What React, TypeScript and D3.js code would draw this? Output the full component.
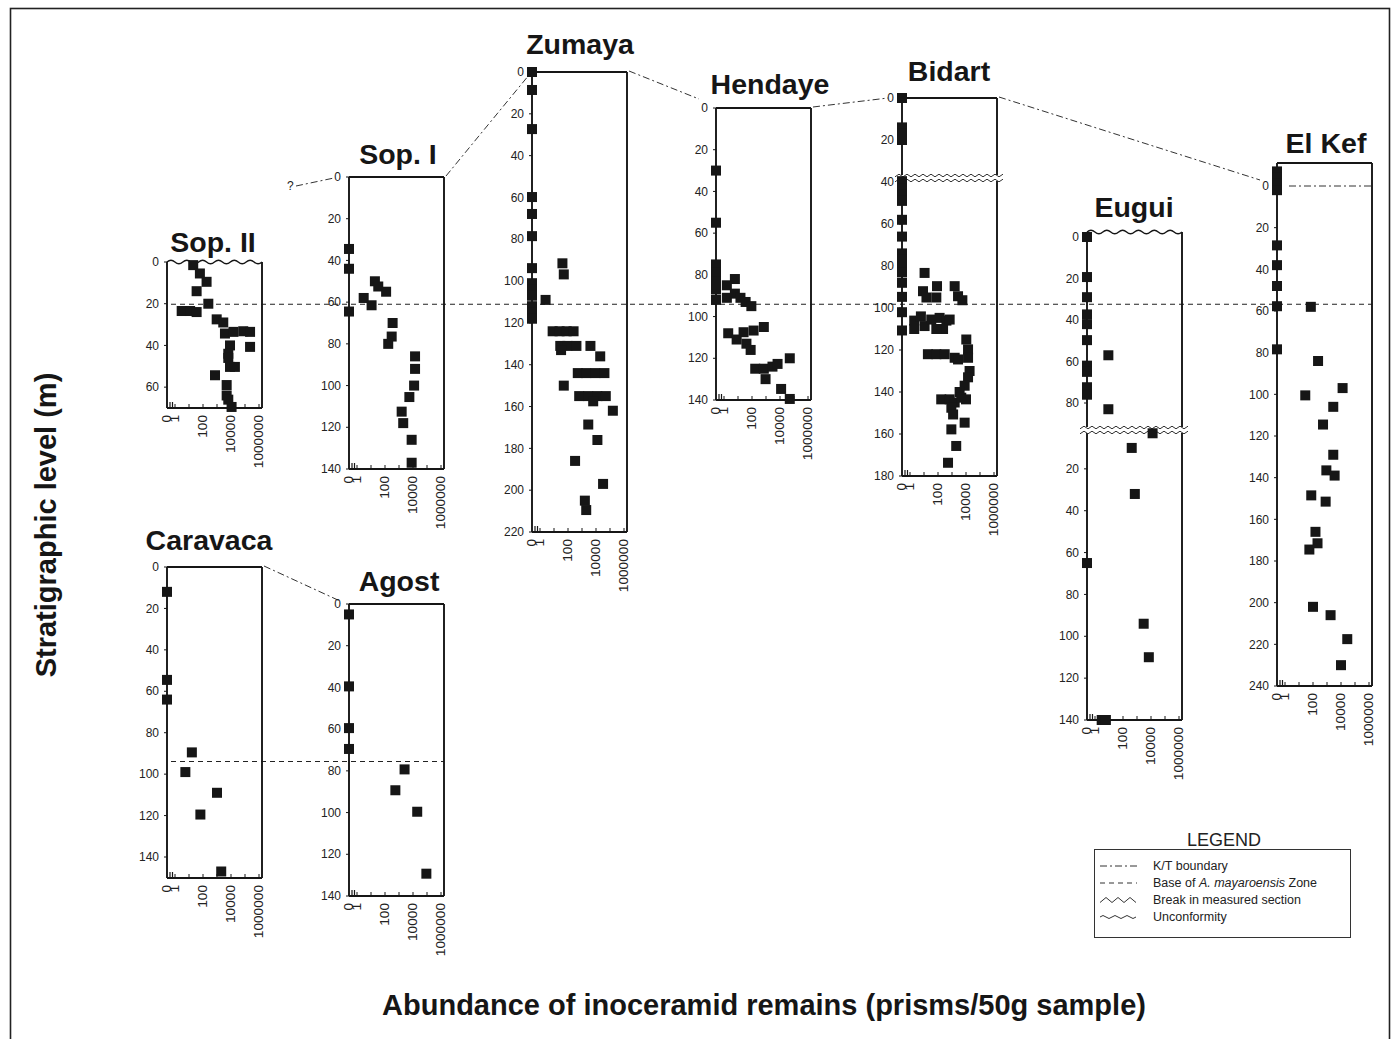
import React from 'react';
import * as d3 from 'd3';

// [stratigraphic level (m), inoceramid prisms per 50 g sample]
type Sample = [number, number];

const sopII: Sample[] = [
  [1.5, 20], [5.5, 60], [9.5, 180], [14, 35], [20, 240], [23.5, 3], [23.5, 12], [24, 35],
  [27.5, 950], [29, 2800], [34.3, 3700], [33.5, 15000], [33.2, 75000], [33.5, 230000],
  [40.7, 230000], [40, 8500], [44, 6400], [46, 6400], [50.3, 8500], [50.3, 19000],
  [54.3, 720], [59, 4900], [64, 4900], [66, 6400], [69.5, 11000],
];

const sopI: Sample[] = [
  [34.5, 0], [44, 0], [58, 3], [61.5, 11], [50, 19], [52.5, 33], [55, 120], [64.5, 0],
  [70, 350], [76.5, 300], [80, 170], [86, 14000], [92, 14000], [100, 12000], [105.5, 5500],
  [112.5, 1550], [118, 2000], [126, 8000], [137, 8000],
];

const zumaya: Sample[] = [
  [0, 0], [8.6, 0], [27.3, 0], [59.8, 0], [67.9, 0], [78.5, 0], [93.8, 0], [101, 0],
  [104, 0], [107, 0], [112, 0], [115, 0], [118, 0], [109, 2.5],
  [91.5, 40], [96.8, 50],
  [124, 8], [124, 25], [124, 80], [124, 250],
  [131, 28], [131, 90], [131, 400], [133, 32], [131, 4000], [136, 20000],
  [144, 500], [144, 2000], [144, 9000], [144, 40000], [150, 50],
  [155, 630], [155, 2800], [155, 12600], [155, 50000], [157.5, 6300],
  [162, 160000], [168.6, 2800], [176, 12600], [186, 320], [197, 32000], [205, 1600], [209.5, 2000],
];

const hendaye: Sample[] = [
  [30, 0], [55, 0], [75, 0], [79, 0], [83, 0], [87, 0], [92, 0],
  [82, 6], [85, 1.6], [91, 1.6], [89, 6], [91, 15], [93, 35], [95, 90],
  [108, 2], [111, 8], [107.5, 25], [106.7, 130], [105, 700], [113, 40], [116, 80],
  [120, 50000], [125, 170], [125, 700], [124, 2900], [122.7, 6700], [130, 930],
  [134.7, 12000], [139.5, 50000],
];

const bidart: Sample[] = [
  [0, 0], [14, 0], [17, 0], [20, 0], [39.6, 0], [43, 0], [46, 0], [49, 0], [58, 0], [66, 0],
  [74, 0], [77, 0], [80, 0], [83, 0], [88, 0], [94.7, 0], [102, 0], [110.7, 0],
  [83.3, 11], [92, 8.5], [95, 15], [89.6, 85], [95, 76], [89.6, 1550], [94.4, 2700], [96.3, 5500],
  [106, 2], [110, 2], [104, 6], [108.6, 11], [105.5, 33], [104.7, 130], [106, 400], [110, 230],
  [105.5, 680], [110, 76],
  [115, 10500], [119.7, 14000], [123.7, 14000],
  [122, 19], [122, 76], [122, 300], [123.7, 1550], [124.5, 2700],
  [130, 18000], [133, 14000], [137, 8000], [140, 3500],
  [143.5, 170], [143.5, 680], [145, 1550], [142.7, 4600], [143.5, 10000],
  [147.5, 900], [150.7, 1200], [154.6, 8000], [157.8, 900], [165.7, 2000], [173.7, 520],
];

const euguiUpper: Sample[] = [
  [0, 0], [19.3, 0], [29, 0], [37.3, 0], [42, 0], [49.7, 0], [62, 0], [65, 0], [72.4, 0], [76, 0],
  [57, 9], [83, 9],
];

const euguiLower: Sample[] = [
  [3, 13000], [10, 420], [32, 700], [65, 0], [94, 3000], [110, 7000], [140, 3], [140, 6],
];

const elKef: Sample[] = [
  [-7, 0], [-4, 0], [-1, 0], [2, 0], [28.5, 0], [38, 0], [48, 0], [57.7, 0], [78.4, 0],
  [58, 70], [84, 230], [100.5, 28], [97, 13000], [106, 2800], [114.5, 520], [129, 2800],
  [136.5, 900], [139, 3500], [148.5, 75], [151.5, 800], [166, 150], [171.5, 210], [174.5, 55],
  [202, 100], [206, 1800], [217.5, 28000], [230, 10000],
];

const caravaca: Sample[] = [
  [12, 0], [54.5, 0], [64, 0], [89.5, 16], [99, 5.5], [109, 1000], [119.5, 65], [147, 2000],
];

const agost: Sample[] = [
  [5, 0], [39.5, 0], [59.5, 0], [69.5, 0], [79.3, 2500], [89.3, 550], [99.6, 20000], [129.3, 90000],
];

const abundanceTicks = [0, 1, 100, 10000, 1000000];
const decadeTicks = [1, 10, 100, 1000, 10000, 100000, 1000000];
const levels70 = [0, 20, 40, 60];
const levels80 = [0, 20, 40, 60, 80];
const levels140 = [0, 20, 40, 60, 80, 100, 120, 140];
const levels140Lower = [20, 40, 60, 80, 100, 120, 140];
const levels180 = [0, 20, 40, 60, 80, 100, 120, 140, 160, 180];
const levels220 = [0, 20, 40, 60, 80, 100, 120, 140, 160, 180, 200, 220];
const levels240 = [0, 20, 40, 60, 80, 100, 120, 140, 160, 180, 200, 220, 240];

const legendItems = ['K/T boundary', 'Base of A. mayaroensis Zone', 'Break in measured section', 'Unconformity'];

const FONT = '"Liberation Sans", Arial, Helvetica, sans-serif';
const INK = '#161616';
const W = 95;
const KT_DASH = '7,3,2,3';

interface Section { domain: [number, number]; range: [number, number]; ticks: number[]; data: Sample[] }
interface Panel {
  name: string; left: number; titleX: number; titleY: number;
  sections: Section[]; frameTop?: number; frameBottom?: number;
  wavyTop?: boolean; breakY?: number; ktInside?: boolean;
}

const panels: Panel[] = [
  { name: 'Sop. II', left: 167, titleX: 213, titleY: 252, wavyTop: true,
    sections: [{ domain: [0, 70], range: [262, 408], ticks: levels70, data: sopII }] },
  { name: 'Sop. I', left: 349, titleX: 398, titleY: 164,
    sections: [{ domain: [0, 140], range: [177, 469], ticks: levels140, data: sopI }] },
  { name: 'Zumaya', left: 532, titleX: 580, titleY: 54,
    sections: [{ domain: [0, 220], range: [72, 532], ticks: levels220, data: zumaya }] },
  { name: 'Hendaye', left: 716, titleX: 770, titleY: 94,
    sections: [{ domain: [0, 140], range: [108, 400], ticks: levels140, data: hendaye }] },
  { name: 'Bidart', left: 902, titleX: 949, titleY: 81, breakY: 178,
    sections: [{ domain: [0, 180], range: [98, 476], ticks: levels180, data: bidart }] },
  { name: 'Eugui', left: 1087, titleX: 1134, titleY: 217, wavyTop: true, frameTop: 232, breakY: 430,
    sections: [
      { domain: [0, 80], range: [237, 403], ticks: levels80, data: euguiUpper },
      { domain: [0, 140], range: [427, 720], ticks: levels140Lower, data: euguiLower },
    ] },
  { name: 'El Kef', left: 1277, titleX: 1326, titleY: 153, frameTop: 163, ktInside: true,
    sections: [{ domain: [0, 240], range: [186, 686], ticks: levels240, data: elKef }] },
  { name: 'Caravaca', left: 167, titleX: 209, titleY: 550, frameBottom: 878,
    sections: [{ domain: [0, 140], range: [567, 857], ticks: levels140, data: caravaca }] },
  { name: 'Agost', left: 349, titleX: 399, titleY: 591,
    sections: [{ domain: [0, 140], range: [604, 896], ticks: levels140, data: agost }] },
];

// K/T boundary correlation lines: top-right corner of one section to the 0 level of the next
const connectors = [
  { from: 'Sop. I', to: 'Zumaya', dx: -3, dy: 3 },
  { from: 'Zumaya', to: 'Hendaye', dx: -17, dy: -9 },
  { from: 'Hendaye', to: 'Bidart', dx: -14, dy: 0 },
  { from: 'Bidart', to: 'El Kef', dx: -17, dy: -6 },
  { from: 'Caravaca', to: 'Agost', dx: -9, dy: -3 },
];

const wave = (x0: number, x1: number, y: number, period: number, amp: number) => {
  const n = Math.max(1, Math.round((x1 - x0) / period));
  const p = (x1 - x0) / n;
  let d = `M${x0},${y}`;
  for (let i = 0; i < n; i++) {
    const x = x0 + i * p;
    d += ` Q${x + p / 4},${y - amp * 2} ${x + p / 2},${y} Q${x + (3 * p) / 4},${y + amp * 2} ${x + p},${y}`;
  }
  return d;
};

const zigzag = (x0: number, x1: number, y: number, step: number, amp: number) => {
  const pts: [number, number][] = [];
  let i = 0;
  for (let x = x0; x <= x1; x += step, i++) pts.push([x, y + (i % 2 ? -amp : amp)]);
  return d3.line()(pts) as string;
};

const levelScale = (p: Panel) => d3.scaleLinear().domain(p.sections[0].domain).range(p.sections[0].range);

const PanelView: React.FC<{ p: Panel }> = ({ p }) => {
  const right = p.left + W;
  const logX = d3.scaleLog().domain([1, 1e6]).range([p.left + 8, p.left + 92]);
  const x = (v: number) => (v <= 0 ? p.left : logX(v));
  const scales = p.sections.map(s => d3.scaleLinear().domain(s.domain).range(s.range));
  const last = p.sections.length - 1;
  const top = p.frameTop ?? p.sections[0].range[0];
  const bottom = p.frameBottom ?? scales[last](p.sections[last].domain[1]);
  const sq = 10;

  return (
    <g>
      <text x={p.titleX} y={p.titleY} textAnchor="middle" fontSize={28.5} fontWeight="bold" fill={INK}>
        {p.name}
      </text>

      {p.ktInside && (
        <line x1={p.left + 12} x2={right} y1={scales[0](0)} y2={scales[0](0)}
          stroke="#333" strokeWidth={1} strokeDasharray={KT_DASH} />
      )}

      {/* frame */}
      <g stroke={INK} strokeWidth={1.9} fill="none">
        <line x1={p.left} x2={p.left} y1={top} y2={bottom} />
        <line x1={right} x2={right} y1={top} y2={bottom} />
        <line x1={p.left} x2={right} y1={bottom} y2={bottom} />
        {p.wavyTop
          ? <path d={wave(p.left, right, top, 16, 1.8)} strokeWidth={1.4} />
          : <line x1={p.left} x2={right} y1={top} y2={top} />}
      </g>

      {/* level axis */}
      {p.sections.map((s, si) => (
        <g key={si}>
          {s.ticks.map(t => (
            <g key={t}>
              <line x1={p.left - 3} x2={p.left} y1={scales[si](t)} y2={scales[si](t)} stroke={INK} strokeWidth={1} />
              <text x={p.left - 8} y={scales[si](t)} dy="0.35em" textAnchor="end" fontSize={12} fill="#222">{t}</text>
            </g>
          ))}
        </g>
      ))}

      {/* abundance axis */}
      {decadeTicks.map(d => (
        <line key={d} x1={logX(d)} x2={logX(d)} y1={bottom} y2={bottom - 4} stroke={INK} strokeWidth={1} />
      ))}
      <line x1={p.left + 3} x2={p.left + 3} y1={bottom - 6} y2={bottom + 1} stroke={INK} strokeWidth={1.2} />
      <line x1={p.left + 5.5} x2={p.left + 5.5} y1={bottom - 6} y2={bottom + 1} stroke={INK} strokeWidth={1.2} />
      {abundanceTicks.map(t => (
        <text key={t} transform={`translate(${x(t)},${bottom + 7}) rotate(-90) scale(1.14,1)`} dy="0.35em"
          textAnchor="end" fontSize={12} fill="#222">{t}</text>
      ))}

      {/* break in measured section */}
      {p.breakY !== undefined && (
        <g>
          <rect x={p.left - 6} y={p.breakY - 3} width={W + 12} height={6} fill="#fff" />
          <path d={zigzag(p.left - 7, right + 7, p.breakY - 2.5, 4, 1.3)} stroke="#333" strokeWidth={1} fill="none" />
          <path d={zigzag(p.left - 7, right + 7, p.breakY + 2.5, 4, 1.3)} stroke="#333" strokeWidth={1} fill="none" />
        </g>
      )}

      {/* samples */}
      {p.sections.map((s, si) =>
        s.data.map((d, i) => (
          <rect key={`${si}-${i}`} x={x(d[1]) - sq / 2} y={scales[si](d[0]) - sq / 2} width={sq} height={sq} fill={INK} />
        ))
      )}
    </g>
  );
};

const App: React.FC = () => {
  const byName = (n: string) => panels.find(p => p.name === n) as Panel;
  const sopI = byName('Sop. I');
  const agostP = byName('Agost');
  const sopIIP = byName('Sop. II');
  const elKefP = byName('El Kef');
  const baseTopY = levelScale(sopI)(61);
  const baseBottomY = levelScale(agostP)(75.5);
  const sopIZero = levelScale(sopI)(0);

  return (
    <svg width={1393} height={1039} style={{ position: 'absolute', left: 0, top: 0, background: '#fff' }}
      fontFamily={FONT}>
      <rect x={10.5} y={8.5} width={1379} height={1040} fill="none" stroke="#222" strokeWidth={1.6} />

      {/* base of A. mayaroensis zone */}
      <line x1={sopIIP.left + 4} x2={elKefP.left + W} y1={baseTopY} y2={baseTopY}
        stroke="#222" strokeWidth={1.1} strokeDasharray="5,4" />
      <line x1={sopIIP.left + 4} x2={agostP.left + W} y1={baseBottomY} y2={baseBottomY}
        stroke="#222" strokeWidth={1.1} strokeDasharray="5,4" />

      {/* K/T boundary correlation */}
      {connectors.map(c => {
        const a = byName(c.from);
        const b = byName(c.to);
        return (
          <line key={c.from} x1={a.left + W + 2} y1={levelScale(a)(0) - 1}
            x2={b.left + c.dx} y2={levelScale(b)(0) + c.dy}
            stroke="#333" strokeWidth={1} strokeDasharray={KT_DASH} />
        );
      })}
      <text x={sopI.left - 62} y={sopIZero + 13} fontSize={12} fill="#222">?</text>
      <line x1={sopI.left - 53} y1={sopIZero + 9} x2={sopI.left - 15} y2={sopIZero + 1}
        stroke="#333" strokeWidth={1} strokeDasharray={KT_DASH} />

      {panels.map(p => <PanelView key={p.name} p={p} />)}

      {/* axis titles */}
      <text x={764} y={1015} textAnchor="middle" fontSize={29} fontWeight="bold" fill={INK}>
        Abundance of inoceramid remains (prisms/50g sample)
      </text>
      <text transform="translate(46,525) rotate(-90)" textAnchor="middle" dy="0.35em" fontSize={29}
        fontWeight="bold" fill={INK}>
        Stratigraphic level (m)
      </text>

      {/* legend */}
      <g>
        <text x={1224} y={846} textAnchor="middle" fontSize={18} fill="#222">LEGEND</text>
        <rect x={1094.5} y={849.5} width={256} height={88} fill="none" stroke="#333" strokeWidth={1} />
        {legendItems.map((item, i) => {
          const y = 870 + i * 17;
          const ly = y - 4;
          return (
            <g key={item}>
              {i === 0 && <line x1={1100} x2={1137} y1={ly} y2={ly} stroke="#333" strokeWidth={1} strokeDasharray={KT_DASH} />}
              {i === 1 && <line x1={1100} x2={1137} y1={ly} y2={ly} stroke="#333" strokeWidth={1} strokeDasharray="5,4" />}
              {i === 2 && <path d={zigzag(1100, 1136, ly, 6, 2.5)} stroke="#333" strokeWidth={1} fill="none" />}
              {i === 3 && <path d={wave(1100, 1136, ly, 12, 1.5)} stroke="#333" strokeWidth={1} fill="none" />}
              <text x={1153} y={y} fontSize={12.5} fill="#222">
                {i === 1 ? (
                  <>Base of <tspan fontStyle="italic">A. mayaroensis</tspan> Zone</>
                ) : item}
              </text>
            </g>
          );
        })}
      </g>
    </svg>
  );
};

export default App;
